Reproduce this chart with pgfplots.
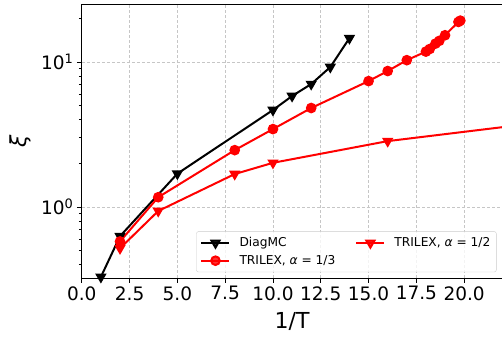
\documentclass[border=0pt]{standalone}
\usepackage{pgfplots}
\pgfplotsset{compat=1.18}
\usepackage{fontspec}
\setmainfont{DejaVu Sans}
\begin{document}
\begin{tikzpicture}
\begin{axis}[
  scale only axis, width=420.3pt, height=273.4pt,
  xmin=0, xmax=22, ymode=log, ymin=0.325, ymax=25,
  /pgf/number format/assume math mode=true,
  xtick={0,2.5,5,7.5,10,12.5,15,17.5,20},
  xticklabel style={/pgf/number format/.cd, fixed, fixed zerofill, precision=1},
  ytick={1,10},
  yticklabels={10\textsuperscript{0},10\textsuperscript{1}},
  minor ytick={0.4,0.5,0.6,0.7,0.8,0.9,2,3,4,5,6,7,8,9,20},
  tick label style={font=\fontsize{18.5pt}{20pt}\selectfont},
  tick pos=left, tick align=outside,
  major tick length=4.9pt, minor tick length=2.8pt,
  every tick/.style={black, line width=0.8pt},
  axis line style={line width=0.8pt},
  grid=major,
  major grid style={gray!45, line width=0.8pt, dash pattern=on 3pt off 2pt},
  xlabel={1/T},
  xlabel style={font=\fontsize{22pt}{24pt}\selectfont, at={(axis description cs:0.5,0)}, anchor=base, yshift=-50.3pt},
  ylabel={\textit{ξ}},
  ylabel style={font=\fontsize{22pt}{24pt}\selectfont, at={(axis description cs:0,0.5)}, anchor=center, yshift=61.7pt},
  legend columns=2,
  legend cell align=left,
  legend style={
    at={(axis description cs:0.986,0.021)}, anchor=south east,
    draw=black!20, rounded corners=2pt, fill=white, fill opacity=0.8, text opacity=1,
    font=\fontsize{12.2pt}{14pt}\selectfont,
    row sep=3pt, inner xsep=4pt, inner ysep=4pt,
    /tikz/every odd column/.append style={column sep=7pt},
    /tikz/every even column/.append style={column sep=18pt},
  },
  legend image code/.code={\draw[mark repeat=2, mark phase=2] plot coordinates {(0pt,0pt) (14pt,0pt) (28pt,0pt)};},
]
\addplot[black, line width=2pt, mark=triangle*, mark size=4.6pt, mark options={rotate=180, solid}]
  coordinates {(1,0.33) (2,0.63) (5,1.70) (10,4.67) (11,5.83) (12,7.05) (13,9.24) (14,14.6)};
\addlegendentry{DiagMC}
\addplot[red, line width=2pt, mark=triangle*, mark size=4.6pt, mark options={rotate=180, solid}]
  coordinates {(2,0.52) (4,0.94) (8,1.69) (10,2.02) (16,2.85) (24,3.83)};
\addlegendentry{TRILEX, \textit{α} = 1/2}
\addplot[red, line width=2pt, mark=*, mark size=4.3pt, mark options={solid}]
  coordinates {(2,0.58) (4,1.17) (8,2.47) (10,3.45) (12,4.82) (15,7.39) (16,8.67) (17,10.3) (18,11.8) (18.2,12.3) (18.5,13.4) (18.7,14.0) (19.0,15.3) (19.7,18.9) (19.8,19.3)};
\addlegendentry{TRILEX, \textit{α} = 1/3}
\end{axis}
\pgfresetboundingbox
\path[use as bounding box] ([xshift=-81.7pt,yshift=-61.3pt]current axis.south west) rectangle ([xshift=-0.4pt,yshift=4.3pt]current axis.north east);
\end{tikzpicture}
\end{document}
